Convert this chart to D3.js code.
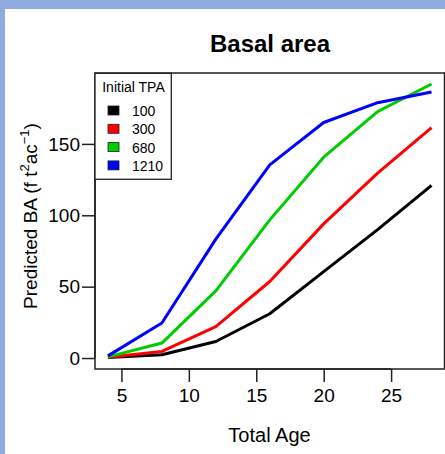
<!DOCTYPE html>
<html>
<head>
<meta charset="utf-8">
<script src="https://cdn.jsdelivr.net/npm/d3@7"></script>
<style>
  html, body { margin: 0; padding: 0; background: #8FAADC; }
  svg { display: block; }
  text { font-family: "Liberation Sans", Arial, sans-serif; fill: #000; }
</style>
</head>
<body>
<script>
// ---- data ----
const ages = [4, 8, 12, 16, 20, 24, 28];
const tpa100  = [0.3, 2.3, 11.6, 31, 60.5, 90, 121];
const tpa300  = [0.5, 4.6, 22, 53.6, 94, 129.5, 161.4];
const tpa680  = [0.8, 10.5, 47, 96.8, 140.7, 172.6, 192];
const tpa1210 = [1.5, 24.5, 83.3, 135.3, 165, 178.9, 186.4];
const seriesNames = ["100", "300", "680", "1210"];
const seriesColors = ["#000000", "#FF0000", "#00CD00", "#0000FF"];
const xTicks = [5, 10, 15, 20, 25];
const yTicks = [0, 50, 100, 150];
const titleText = "Basal area";
const xLabel = "Total Age";
const legendTitle = "Initial TPA";

const seriesValues = [tpa100, tpa300, tpa680, tpa1210];

const W = 445, H = 454;
const svg = d3.select("body").append("svg").attr("width", W).attr("height", H);

// white panel
svg.append("rect").attr("x", 5).attr("y", 9).attr("width", W - 5).attr("height", H - 9).attr("fill", "#fff");

const plot = { left: 95, right: 444.5, top: 73, bottom: 369 };

const xMin = d3.min(ages), xMax = d3.max(ages);
const xPad = (xMax - xMin) * 0.04;
const x = d3.scaleLinear().domain([xMin - xPad, xMax + xPad]).range([plot.left, plot.right]);
const allY = seriesValues.flat();
const yMin = 0, yMax = d3.max(allY);
const yPad = (yMax - yMin) * 0.04;
const y = d3.scaleLinear().domain([yMin - yPad, yMax + yPad]).range([plot.bottom, plot.top]);

// lines
const line = d3.line().x((d, i) => x(ages[i])).y(d => y(d));
seriesValues.forEach((vals, k) => {
  svg.append("path").attr("d", line(vals)).attr("fill", "none")
    .attr("stroke", seriesColors[k]).attr("stroke-width", 3).attr("stroke-linejoin", "round");
});

// box
svg.append("rect").attr("x", plot.left).attr("y", plot.top)
  .attr("width", plot.right - plot.left).attr("height", plot.bottom - plot.top)
  .attr("fill", "none").attr("stroke", "#222").attr("stroke-width", 1.5);

// x axis
const xAxis = d3.axisBottom(x).tickValues(xTicks).tickSize(13).tickPadding(7).tickSizeOuter(0);
const gx = svg.append("g").attr("transform", `translate(0,${plot.bottom})`).call(xAxis);
gx.select(".domain").attr("d", `M${x(xTicks[0])},0H${x(xTicks[xTicks.length-1])}`).attr("stroke", "#222").attr("stroke-width", 1.5);
gx.selectAll(".tick line").attr("stroke", "#222").attr("stroke-width", 1.5);
gx.selectAll(".tick text").attr("font-size", 19).attr("font-family", "Liberation Sans, Arial, sans-serif").attr("fill", "#000");

// y axis
const yAxis = d3.axisLeft(y).tickValues(yTicks).tickSize(13).tickPadding(2).tickSizeOuter(0);
const gy = svg.append("g").attr("transform", `translate(${plot.left},0)`).call(yAxis);
gy.select(".domain").attr("d", `M0,${y(yTicks[0])}V${y(yTicks[yTicks.length-1])}`).attr("stroke", "#222").attr("stroke-width", 1.5);
gy.selectAll(".tick line").attr("stroke", "#222").attr("stroke-width", 1.5);
gy.selectAll(".tick text").attr("font-size", 19).attr("font-family", "Liberation Sans, Arial, sans-serif").attr("fill", "#000");

// title
svg.append("text").attr("x", 270).attr("y", 52).attr("text-anchor", "middle")
  .attr("font-size", 24).attr("font-weight", "bold").text(titleText);

// x label
svg.append("text").attr("x", 269.5).attr("y", 442).attr("text-anchor", "middle")
  .attr("font-size", 20).text(xLabel);

// y label
const yl = svg.append("text").attr("transform", `translate(37,216) rotate(-90)`)
  .attr("text-anchor", "middle").attr("font-size", 19);
yl.append("tspan").text("Predicted BA (f t");
yl.append("tspan").attr("font-size", 13).attr("dy", -8).text("2");
yl.append("tspan").attr("dy", 8).text("ac");
yl.append("tspan").attr("font-size", 13).attr("dy", -8).text("\u22121");
yl.append("tspan").attr("dy", 8).text(")");

// legend
const lg = svg.append("g");
lg.append("rect").attr("x", 95).attr("y", 73.3).attr("width", 76.3).attr("height", 106)
  .attr("fill", "#fff").attr("stroke", "#222").attr("stroke-width", 1.3);
lg.append("text").attr("x", 133.5).attr("y", 92).attr("text-anchor", "middle")
  .attr("font-family", "Liberation Sans Narrow, Arial Narrow, sans-serif").attr("font-size", 14)
  .text(legendTitle);
seriesNames.forEach((name, k) => {
  const cy = 110.5 + k * 18.3;
  lg.append("rect").attr("x", 108).attr("y", cy - 4.5).attr("width", 11).attr("height", 9)
    .attr("fill", seriesColors[k]).attr("stroke", "#222").attr("stroke-width", 0.8);
  lg.append("text").attr("x", 132).attr("y", cy + 5.5).attr("font-size", 14).text(name);
});
</script>
</body>
</html>
